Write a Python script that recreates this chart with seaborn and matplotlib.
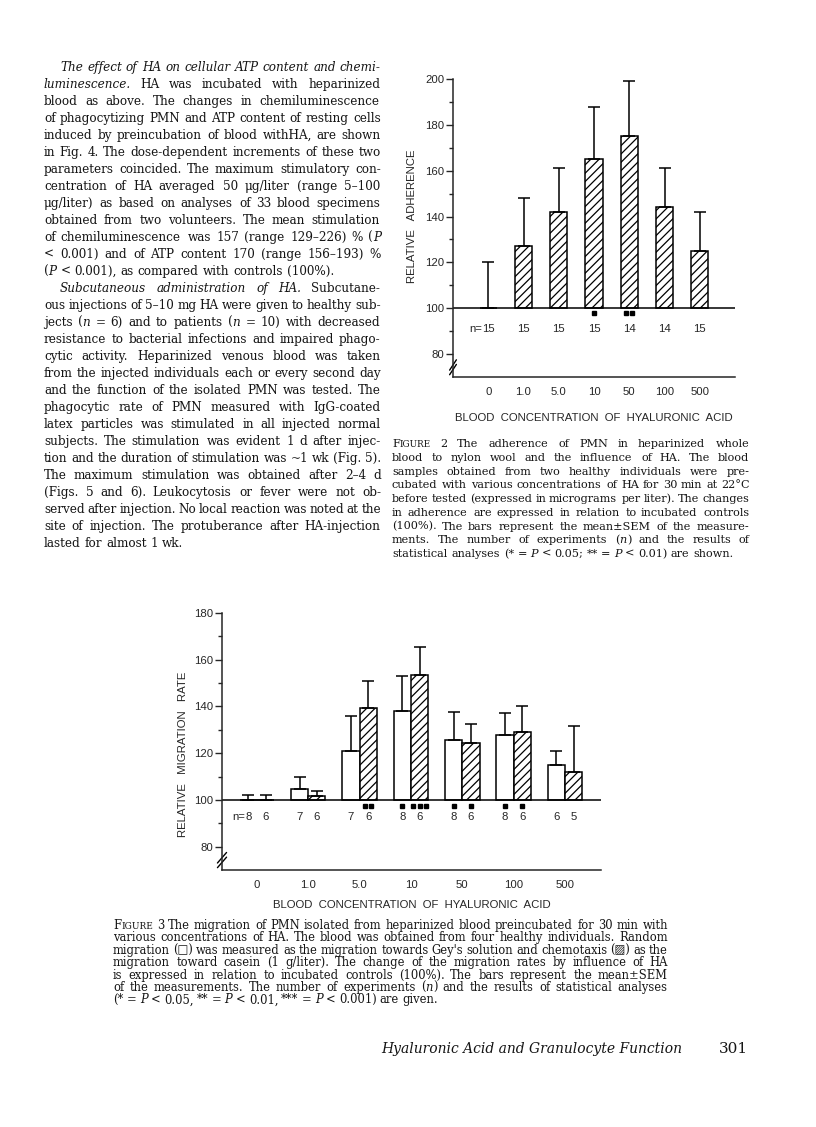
import numpy as np
import pandas as pd
import matplotlib
matplotlib.use("Agg")
import matplotlib.pyplot as plt
import matplotlib.transforms as mtransforms
import seaborn as sns

W, H = 816, 1127
BASE = 100

# ---------- data: Figure 2 (adherence) ----------
conc_labels = ["0", "1.0", "5.0", "10", "50", "100", "500"]
adh_mean = [100, 127, 142, 165, 175, 144, 125]
adh_sem = [20, 21, 19, 23, 24, 17, 17]
adh_n = [15, 15, 15, 15, 14, 14, 15]
adh_stars = [0, 0, 0, 1, 2, 0, 0]

# ---------- data: Figure 3 (migration) ----------
rand_mean = [100, 104.7, 121, 138, 125.7, 127.8, 115]
rand_sem = [2, 5.3, 15, 15, 12, 9.4, 6]
chemo_mean = [100, 101.6, 139.4, 153.5, 124.4, 129, 112]
chemo_sem = [2, 2.4, 11.6, 12, 8.2, 11, 19.7]
rand_n = [8, 7, 7, 8, 8, 8, 6]
chemo_n = [6, 6, 6, 6, 6, 6, 5]
rand_stars = [0, 0, 0, 1, 1, 1, 0]
chemo_stars = [0, 0, 2, 3, 1, 1, 0]

# ---------- page text ----------
body_lines = [
    "_The effect of HA on cellular ATP content and chemi-_",
    "_luminescence._  HA was incubated with heparinized",
    "blood as above. The changes in chemiluminescence",
    "of phagocytizing PMN and ATP content of resting cells",
    "induced by preincubation of blood withHA, are shown",
    "in Fig. 4. The dose-dependent increments of these two",
    "parameters coincided. The maximum stimulatory con-",
    "centration of HA averaged 50 μg/liter (range 5–100",
    "μg/liter) as based on analyses of 33 blood specimens",
    "obtained from two volunteers. The mean stimulation",
    "of chemiluminescence was 157 (range 129–226) % (_P_",
    "< 0.001) and of ATP content 170 (range 156–193) %",
    "(_P_ < 0.001), as compared with controls (100%).",
    "_Subcutaneous administration of HA._  Subcutane-",
    "ous injections of 5–10 mg HA were given to healthy sub-",
    "jects (_n_ = 6) and to patients (_n_ = 10) with decreased",
    "resistance to bacterial infections and impaired phago-",
    "cytic activity. Heparinized venous blood was taken",
    "from the injected individuals each or every second day",
    "and the function of the isolated PMN was tested. The",
    "phagocytic rate of PMN measured with IgG-coated",
    "latex particles was stimulated in all injected normal",
    "subjects. The stimulation was evident 1 d after injec-",
    "tion and the duration of stimulation was ~1 wk (Fig. 5).",
    "The maximum stimulation was obtained after 2–4 d",
    "(Figs. 5 and 6). Leukocytosis or fever were not ob-",
    "served after injection. No local reaction was noted at the",
    "site of injection. The protuberance after HA-injection",
    "lasted for almost 1 wk.",
]
body_indent = {0, 13}
body_ragged = {12, 28}

cap2_lines = [
    "FIGURE 2  The adherence of PMN in heparinized whole",
    "blood to nylon wool and the influence of HA. The blood",
    "samples obtained from two healthy individuals were pre-",
    "cubated with various concentrations of HA for 30 min at 22°C",
    "before tested (expressed in micrograms per liter). The changes",
    "in adherence are expressed in relation to incubated controls",
    "(100%). The bars represent the mean±SEM of the measure-",
    "ments. The number of experiments (_n_) and the results of",
    "statistical analyses (* = _P_ < 0.05; ** = _P_ < 0.01) are shown.",
]

cap3_lines = [
    "FIGURE 3   The migration of PMN isolated from heparinized blood preincubated for 30 min with",
    "various concentrations of HA. The blood was obtained from four healthy individuals. Random",
    "migration (□) was measured as the migration towards Gey's solution and chemotaxis (▨) as the",
    "migration toward casein (1 g/liter). The change of the migration rates by influence of HA",
    "is expressed in relation to incubated controls (100%). The bars represent the mean±SEM",
    "of the measurements. The number of experiments (_n_) and the results of statistical analyses",
    "(* = _P_ < 0.05, ** = _P_ < 0.01, *** = _P_ < 0.001) are given.",
]

sns.set_style("ticks")
plt.rcParams["font.family"] = ["Liberation Sans", "DejaVu Sans"]
plt.rcParams["hatch.color"] = "black"
plt.rcParams["hatch.linewidth"] = 0.9
SERIF = ["DejaVu Serif", "DejaVu Sans"]
INK = "#151515"

fig = plt.figure(figsize=(W / 100, H / 100), dpi=100)
renderer = fig.canvas.get_renderer()


def parse(line):
    words, ital = [], False
    for raw in line.split():
        if raw == "FIGURE":
            words.append([("F", False, 1.0), ("IGURE", False, 0.78)])
            continue
        segs = []
        for k, part in enumerate(raw.split("_")):
            if k > 0:
                ital = not ital
            if part:
                segs.append((part, ital, 1.0))
        words.append(segs)
    return words


def put_block(lines, x0, x1, y0, step, indent=(), ragged=(), ind=16, ref=10.0):
    # lay out a justified block; font size is fitted to the column width
    blocks = []
    for line in lines:
        items = []
        for segs in parse(line):
            wl = []
            for txt, ital, sc in segs:
                t = fig.text(0, 0, txt, fontsize=ref * sc, family=SERIF,
                             style="italic" if ital else "normal",
                             va="baseline", ha="left", color=INK)
                wl.append([t, t.get_window_extent(renderer).width, sc])
            items.append(wl)
        blocks.append(items)
    sp = 0.30 * ref * 100 / 72
    nat = []
    for i, items in enumerate(blocks):
        if i in ragged or i == len(blocks) - 1:
            continue
        avail = x1 - x0 - (ind if i in indent else 0)
        words = sum(w for wl in items for _, w, _ in wl)
        nat.append(avail / (words + sp * (len(items) - 1)))
    k = float(np.quantile(nat, 0.1))
    gmin = 0.5 * sp * k
    for i, items in enumerate(blocks):
        xs = x0 + (ind if i in indent else 0)
        tw = sum(w for wl in items for _, w, _ in wl) * k
        kk, gap = k, sp * k
        if i not in ragged and i != len(blocks) - 1 and len(items) > 1:
            gap = (x1 - xs - tw) / (len(items) - 1)
            if gap < gmin:
                # squeeze a crowded line a little instead of letting words touch
                kk = k * (x1 - xs - gmin * (len(items) - 1)) / tw
                gap = gmin
        x = xs
        for wl in items:
            for t, w, sc in wl:
                t.set_fontsize(ref * sc * kk)
                t.set_position((x / W, 1 - (y0 + i * step) / H))
                x += w * kk
            x += gap


put_block(body_lines, 44, 381, 71, 17.0, indent=body_indent, ragged=body_ragged)
put_block(cap2_lines, 392, 750, 447, 13.75)
put_block(cap3_lines, 113, 668, 929, 12.4)
fig.text(682 / W, 1 - 1053 / H, "Hyaluronic Acid and Granulocyte Function", family=SERIF,
         style="italic", fontsize=10, va="baseline", ha="right", color=INK)
fig.text(748 / W, 1 - 1053 / H, "301", family=SERIF, fontsize=11, va="baseline",
         ha="right", color=INK)


def style_axis(ax, top, ticks, minor):
    ax.set_ylim(70, top)
    ax.set_yticks(ticks)
    ax.set_yticks(minor, minor=True)
    ax.tick_params(axis="y", which="major", length=5, width=1, pad=1, labelsize=8.2)
    ax.tick_params(axis="y", which="minor", length=3, width=1)
    ax.tick_params(axis="x", length=0, pad=7, labelsize=8.2)
    sns.despine(ax=ax)
    for s in ("left", "bottom"):
        ax.spines[s].set_linewidth(1.1)
    ax.axhline(BASE, color="black", lw=1.1, zorder=1)
    tr = mtransforms.blended_transform_factory(ax.transAxes, ax.transData)
    for dy in (0, 2.0):
        ax.plot([-0.012, 0.012], [71.0 + dy, 75.5 + dy], color="black", lw=1,
                transform=tr, clip_on=False)


def lift_bars(bars, hatch=None):
    for p in bars:
        p.set_y(BASE)
        p.set_height(p.get_height() - BASE)
        if hatch:
            p.set_hatch(hatch)
    return [p.get_x() + p.get_width() / 2 for p in bars]


def mark_stars(ax, xs, stars, y, d):
    for x, k in zip(xs, stars):
        if k:
            off = (np.arange(k) - (k - 1) / 2) * d
            ax.plot(x + off, [y] * k, "s", ms=2.6, color="black", clip_on=False)


# ---------- Figure 2 ----------
ax2 = fig.add_axes([453 / W, 1 - 377 / H, (735 - 453) / W, (377 - 79) / H])
df2 = pd.DataFrame({"conc": conc_labels, "value": adh_mean})
sns.barplot(data=df2, x="conc", y="value", order=conc_labels, color="white",
            saturation=1, edgecolor="black", linewidth=1.1, width=0.49,
            errorbar=None, ax=ax2)
xs2 = lift_bars(ax2.containers[0], "////")
ax2.errorbar(xs2, adh_mean, yerr=[np.zeros(len(adh_sem)), adh_sem], fmt="none",
             ecolor="black", elinewidth=1.1, capsize=4.5, capthick=1.1)
ax2.set_xlim(-1, 7)
style_axis(ax2, 200, np.arange(80, 201, 20), np.arange(90, 200, 20))
for i, (x, n) in enumerate(zip(xs2, adh_n)):
    ax2.text(x, 91, str(n), ha="center", va="center", fontsize=8.2)
    if i == 0:
        ax2.text(x - 0.17, 91, "n=", ha="right", va="center", fontsize=8.2)
mark_stars(ax2, xs2, adh_stars, 97.8, 0.17)
ax2.set_xlabel("BLOOD  CONCENTRATION  OF  HYALURONIC  ACID", fontsize=8.2, va="center")
ax2.xaxis.set_label_coords(0.5, -0.138)
ax2.set_ylabel("RELATIVE   ADHERENCE", fontsize=8.2, va="center")
ax2.yaxis.set_label_coords(-0.145, 0.54)

# ---------- Figure 3 ----------
ax3 = fig.add_axes([222 / W, 1 - 870 / H, (601 - 222) / W, (870 - 613) / H])
df3 = pd.DataFrame({
    "conc": conc_labels * 2,
    "value": rand_mean + chemo_mean,
    "kind": ["random"] * len(conc_labels) + ["chemotaxis"] * len(conc_labels),
})
sns.barplot(data=df3, x="conc", y="value", hue="kind", order=conc_labels,
            hue_order=["random", "chemotaxis"], palette=["white", "white"],
            saturation=1, edgecolor="black", linewidth=1.1, width=0.67,
            errorbar=None, legend=False, ax=ax3)
xs_r = lift_bars(ax3.containers[0])
xs_c = lift_bars(ax3.containers[1], "////")
for xs, m, e in ((xs_r, rand_mean, rand_sem), (xs_c, chemo_mean, chemo_sem)):
    ax3.errorbar(xs, m, yerr=[np.zeros(len(e)), e], fmt="none", ecolor="black",
                 elinewidth=1.1, capsize=4.5, capthick=1.1)
ax3.set_xlim(-0.68, 6.7)
style_axis(ax3, 180, np.arange(80, 181, 20), np.arange(90, 180, 20))
for xs, ns in ((xs_r, rand_n), (xs_c, chemo_n)):
    for x, n in zip(xs, ns):
        ax3.text(x, 92.7, str(n), ha="center", va="center", fontsize=8.2)
ax3.text(xs_r[0] - 0.07, 92.7, "n=", ha="right", va="center", fontsize=8.2)
mark_stars(ax3, xs_r, rand_stars, 97.4, 0.12)
mark_stars(ax3, xs_c, chemo_stars, 97.4, 0.12)
ax3.set_xlabel("BLOOD  CONCENTRATION  OF  HYALURONIC  ACID", fontsize=8.2, va="center")
ax3.xaxis.set_label_coords(0.5, -0.136)
ax3.set_ylabel("RELATIVE   MIGRATION   RATE", fontsize=8.2, va="center")
ax3.yaxis.set_label_coords(-0.103, 0.45)

fig.savefig("out.png", dpi=100, facecolor="white")
